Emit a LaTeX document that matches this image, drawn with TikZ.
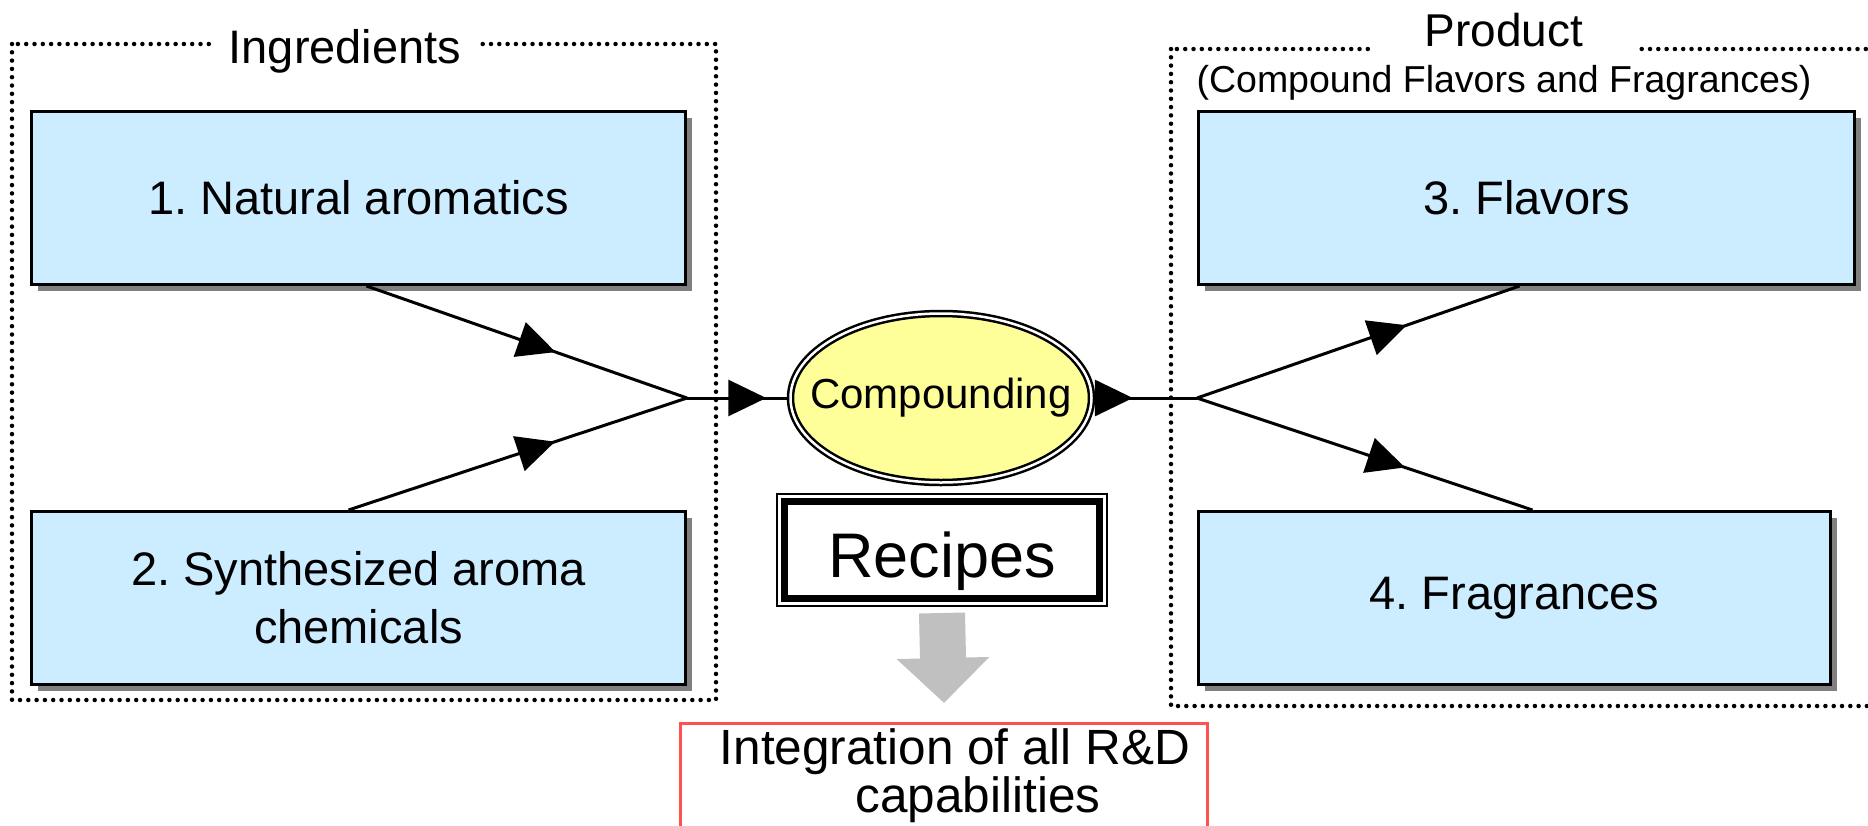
\documentclass[tikz,border=0pt]{standalone}
\usepackage{fontspec}
\setmainfont{Liberation Sans}
\usetikzlibrary{arrows.meta,shapes.geometric,shadows,decorations.markings}
\definecolor{boxblue}{HTML}{CCECFF}
\definecolor{shadowgray}{HTML}{808080}
\definecolor{compyellow}{HTML}{FFFF99}
\definecolor{arrowgray}{HTML}{C0C0C0}
\definecolor{integred}{HTML}{FF5050}
\frenchspacing
\begin{document}
\begin{tikzpicture}[x=1pt,y=-1pt,
  itembox/.style={draw=black, line width=3pt, fill=boxblue, rectangle, inner sep=0pt,
    minimum height=173pt, align=center, font=\fontsize{47}{58}\selectfont,
    drop shadow={shadow xshift=6pt, shadow yshift=-6pt, fill=shadowgray, opacity=1}},
  frame/.style={line width=4.5pt, line cap=round, dash pattern=on 0pt off 8.3pt},
  framelabel/.style={fill=white, anchor=base, inner ysep=8pt},
  conn/.style={line width=3pt, draw=black},
  midarrow/.style={postaction={decorate}, decoration={markings,
    mark=at position #1 with {\arrow{Triangle[length=38pt,width=36pt]}}}}
]
\useasboundingbox (0,0) rectangle (1868,825);
\fill[white] (0,0) rectangle (1868,825);

% dotted frames
\draw[frame] (12,44) rectangle (716,700);
\draw[frame] (1171,49) rectangle (1874,706);
\node[framelabel, inner xsep=16pt, font=\fontsize{47}{56}\selectfont] (ingl) at (345,63) {Ingredients};
\node[framelabel, minimum width=268pt, font=\fontsize{46}{56}\selectfont] (prodl) at (1504,46) {Product};
\node[anchor=base, inner sep=0pt, font=\fontsize{37.5}{44}\selectfont] (prodsub) at (1504,92) {(Compound Flavors and Fragrances)};

% boxes
\node[itembox, minimum width=654pt] (b1) at (358.5,198) {1. Natural aromatics};
\node[itembox, minimum width=654pt] (b2) at (358.5,598) {2. Synthesized aroma\\chemicals};
\node[itembox, minimum width=656pt] (b3) at (1526.5,198) {3. Flavors};
\node[itembox, minimum width=632pt] (b4) at (1514.5,598) {4. Fragrances};

% compounding
\node[ellipse, draw=black, line width=2.5pt, double=white, double distance=2.5pt, fill=compyellow,
  minimum width=301pt, minimum height=169pt, inner sep=0pt] (comp) at (941,398) {};
\node[inner sep=0pt, font=\fontsize{42}{50}\selectfont] (comptext) at (comp.center) {Compounding};

\coordinate (jl) at (687,398);
\coordinate (jr) at (1197,398);

\draw[conn, midarrow=0.59] ([xshift=8pt]b1.south) -- (jl);
\draw[conn, midarrow=0.61] ([xshift=-10pt]b2.north) -- (jl);
\draw[conn, midarrow=0.775] (jl) -- (comp.west);
\draw[conn, midarrow=0.385] (comp.east) -- (jr);
\draw[conn, midarrow=0.65] (jr) -- ([xshift=-7pt]b3.south);
\draw[conn, midarrow=0.62] (jr) -- ([xshift=18pt]b4.north);

% recipes
\node[draw=black, line width=2pt, minimum width=330pt, minimum height=112pt, inner sep=0pt,
  text height=54pt, text depth=0pt, font=\fontsize{63}{70}\selectfont] (rec) at (942,550) {Recipes};
\draw[line width=7pt] ([shift={(8.5,8.5)}]rec.north west) rectangle ([shift={(-8.5,-8.5)}]rec.south east);

% integration box
\node[draw=integred, line width=3pt, minimum width=527pt, minimum height=140pt, inner sep=0pt, anchor=north] (integ) at (944,722) {};
\node[inner sep=0pt, align=center, font=\fontsize{49.5}{48}\selectfont] (integtext) at (955,776)
  {Integration of all R\&D\\\hspace*{46pt}capabilities};

% gray arrow
\draw[arrowgray, line width=46pt, -{Triangle[length=45pt,width=90pt]}] ([yshift=-6pt]rec.south) -- ([yshift=19pt]integ.north);
\end{tikzpicture}
\end{document}
